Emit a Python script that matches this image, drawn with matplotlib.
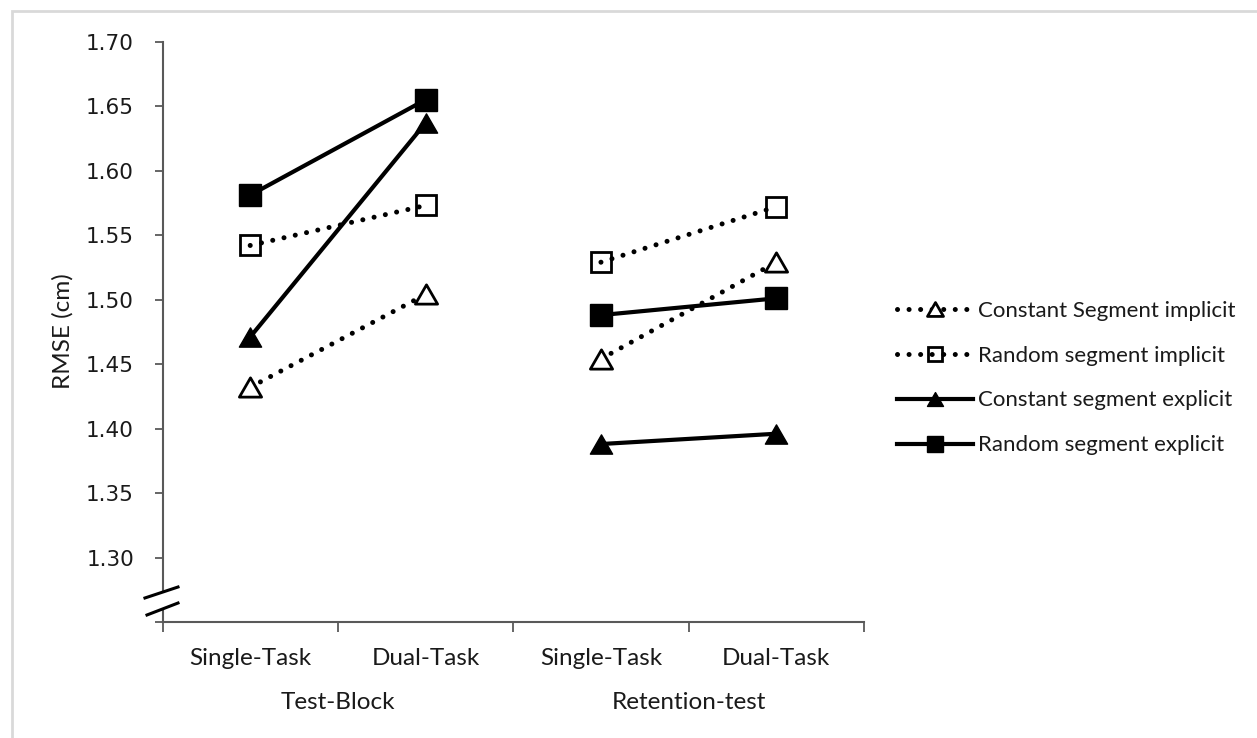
import numpy as np
import matplotlib
matplotlib.use('Agg')
import matplotlib.pyplot as plt
from matplotlib.lines import Line2D
from matplotlib.path import Path
from matplotlib.patches import Polygon, Rectangle

# data
categories = ['Single-Task', 'Dual-Task', 'Single-Task', 'Dual-Task']
groups = ['Test-Block', 'Retention-test']
series_names = ['Constant Segment implicit', 'Random segment implicit',
                'Constant segment explicit', 'Random segment explicit']
constant_implicit = [1.432, 1.504, 1.454, 1.529]
random_implicit = [1.542, 1.573, 1.529, 1.572]
constant_explicit = [1.471, 1.637, 1.388, 1.396]
random_explicit = [1.581, 1.655, 1.488, 1.501]
y_ticks = [1.25, 1.30, 1.35, 1.40, 1.45, 1.50, 1.55, 1.60, 1.65, 1.70]

TEXT_FONT = 'Lato'
AXIS_COL = '#595959'
TXT_COL = '#1a1a1a'

# equilateral-ish triangle like the Excel marker
tri = Path([(0, 0.5), (-0.577, -0.5), (0.577, -0.5), (0, 0.5)],
           [Path.MOVETO, Path.LINETO, Path.LINETO, Path.CLOSEPOLY])

dotted = dict(color='black', lw=3.6, linestyle=(0, (0.01, 2.3)),
              dash_capstyle='round')
solid = dict(color='black', lw=3.0, linestyle='-')
styles = [
    dict(dotted, marker=tri, ms=16, mfc='white', mec='black', mew=2.0),
    dict(dotted, marker='s', ms=14.5, mfc='none', mec='black', mew=2.0),
    dict(solid, marker=tri, ms=16, mfc='black', mec='black', mew=1.0),
    dict(solid, marker='s', ms=15.5, mfc='black', mec='black', mew=1.0),
]
values = [constant_implicit, random_implicit, constant_explicit, random_explicit]

fig = plt.figure(figsize=(12.57, 7.38), dpi=100)
ax = fig.add_axes([162.5 / 1257, 1 - 622 / 738, 701.5 / 1257, 580.3 / 738])

x = np.arange(len(categories))
for vals, st in zip(values, styles):
    # lines only join the two tasks inside each block
    for g in range(len(groups)):
        ax.plot(x[2 * g:2 * g + 2], vals[2 * g:2 * g + 2], **st)
# end series loop

ax.set_xlim(-0.5, len(categories) - 0.5)
ax.set_ylim(y_ticks[0], y_ticks[-1])

# y axis
ax.set_yticks(y_ticks)
ax.set_yticklabels([''] + ['%.2f' % v for v in y_ticks[1:]],
                   family='DejaVu Sans', fontsize=15.5, color=TXT_COL)
ax.tick_params(axis='y', direction='out', length=5.5, width=1.3,
               color=AXIS_COL, pad=15)
fig.text(63 / 1257, 1 - 331 / 738, 'RMSE (cm)', rotation=90, ha='center',
         va='center', family=TEXT_FONT, fontsize=17.5, color=TXT_COL)

# x axis: ticks on block boundaries, labels at the centres
ax.set_xticks(np.arange(-0.5, len(categories), 1.0))
ax.set_xticklabels([])
ax.set_xticks(x, minor=True)
ax.set_xticklabels(categories, minor=True, family=TEXT_FONT, fontsize=17.5,
                   color=TXT_COL)
ax.tick_params(axis='x', which='major', direction='out', length=7.5,
               width=1.3, color=AXIS_COL)
ax.tick_params(axis='x', which='minor', length=0, pad=19)
for g, name in enumerate(groups):
    ax.text(2 * g + 0.5, -0.139, name, transform=ax.get_xaxis_transform(),
            ha='center', va='center', family=TEXT_FONT, fontsize=17.5,
            color=TXT_COL)

for side in ['top', 'right']:
    ax.spines[side].set_visible(False)
for side in ['left', 'bottom']:
    ax.spines[side].set_color(AXIS_COL)
    ax.spines[side].set_linewidth(1.5)

# axis break marks between 1.25 and 1.30
gap = Polygon([(-0.025, 0.0414), (0.0221, 0.0603), (0.0221, 0.0327),
               (-0.0221, 0.0121)], closed=True, transform=ax.transAxes,
              facecolor='white', edgecolor='none', clip_on=False, zorder=5)
ax.add_patch(gap)
ax.add_line(Line2D([-0.025, 0.0221], [0.0414, 0.0603], transform=ax.transAxes,
                   color='black', lw=2.2, clip_on=False, zorder=6))
ax.add_line(Line2D([-0.0221, 0.0221], [0.0121, 0.0327], transform=ax.transAxes,
                   color='black', lw=2.2, clip_on=False, zorder=6))

# legend, with smaller markers than the plot
leg_styles = []
for st in styles:
    s = dict(st)
    s['ms'] = st['ms'] * 0.72
    leg_styles.append(s)
handles = [Line2D([0], [0], **st) for st in leg_styles]
leg = fig.legend(handles, series_names, loc='center left',
                 bbox_to_anchor=(897 / 1257, 1 - 378 / 738),
                 frameon=False, handlelength=3.4, handletextpad=0.25,
                 labelspacing=1.12, borderpad=0, borderaxespad=0,
                 prop={'family': TEXT_FONT, 'size': 16})
for t in leg.get_texts():
    t.set_color(TXT_COL)

# light grey frame round the picture
fig.patches.append(Rectangle((12 / 1257, -0.05), 1.1, 1 - 11 / 738 + 0.05,
                             transform=fig.transFigure, fill=False,
                             edgecolor='#d9d9d9', lw=2.0))

fig.savefig('out.png', dpi=100)
